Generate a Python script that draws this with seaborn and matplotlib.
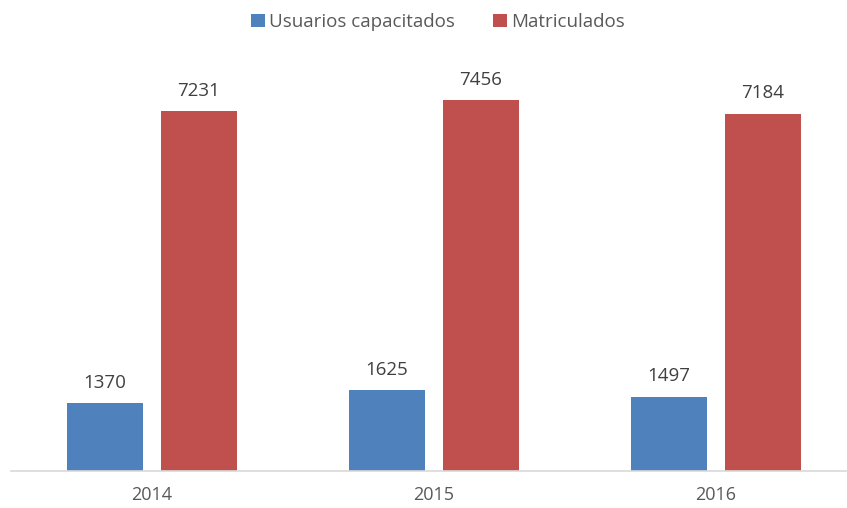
import pandas as pd
import seaborn as sns
import matplotlib.pyplot as plt

years = ['2014', '2015', '2016']
capacitados = [1370, 1625, 1497]
matriculados = [7231, 7456, 7184]
series_names = ['Usuarios capacitados', 'Matriculados']
colors = ['#4F81BD', '#C0504D']

df = pd.DataFrame({
    'Año': years * 2,
    'Valor': capacitados + matriculados,
    'Serie': [series_names[0]] * 3 + [series_names[1]] * 3,
})

sns.set_style('white')
plt.rcParams['font.family'] = ['Open Sans', 'DejaVu Sans']

fig = plt.figure(figsize=(8.47, 5.08), dpi=100)
ax = fig.add_axes([11 / 847, 37 / 508, 835 / 847, 398 / 508])

sns.barplot(data=df, x='Año', y='Valor', hue='Serie', palette=colors,
            width=2 / 3, gap=0.2, saturation=1, linewidth=0, ax=ax, legend=True)

for cont in ax.containers:
    ax.bar_label(cont, fmt='%d', padding=8, fontsize=13.5, color='#404040')

ax.set_xlim(-0.5, 2.461)
ax.set_ylim(0, 8000)
ax.set_xlabel('')
ax.set_ylabel('')
ax.set_yticks([])
ax.tick_params(axis='x', length=0, labelsize=13, labelcolor='#595959', pad=11)
for s in ['top', 'left', 'right']:
    ax.spines[s].set_visible(False)
ax.spines['bottom'].set_color('#d9d9d9')
ax.spines['bottom'].set_linewidth(1.2)

handles, labels = ax.get_legend_handles_labels()
ax.legend(handles, labels, loc='center', bbox_to_anchor=(438 / 847, 1 - 22 / 508),
          bbox_transform=fig.transFigure, ncol=2, frameon=False, fontsize=13.5,
          handlelength=0.75, handleheight=0.75, handletextpad=0.25, columnspacing=2.0,
          labelcolor='#595959')

fig.savefig('out.png', dpi=100)
